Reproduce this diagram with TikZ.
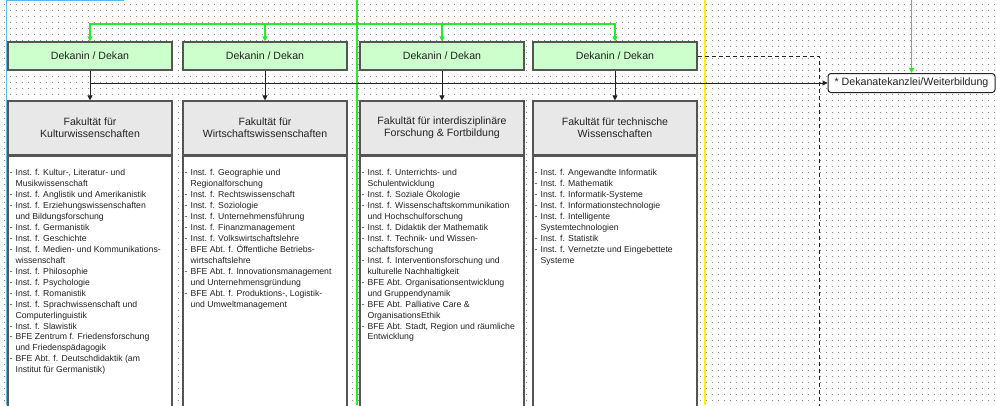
\documentclass[tikz,border=0pt]{standalone}
\usepackage{fontspec}
\setmainfont{Liberation Sans}
\usetikzlibrary{arrows.meta,patterns.meta}
\definecolor{boxline}{HTML}{555555}
\definecolor{txt}{HTML}{222222}
\definecolor{dekfill}{HTML}{CCFFCC}
\definecolor{headfill}{HTML}{E8E8E8}
\definecolor{lanegreen}{HTML}{22EE22}
\definecolor{laneyellow}{HTML}{FFF000}
\definecolor{laneblue}{HTML}{55BBEE}
\definecolor{dotc}{HTML}{606060}
\newcommand{\itm}{\makebox[6bp][l]{-}}
\newcommand{\cnt}{\hspace*{6bp}}
\tikzset{
  dekan/.style={draw=boxline, fill=dekfill, line width=1.2bp, minimum width=164bp,
    minimum height=28bp, inner sep=0pt, text=txt, font=\fontsize{10.6}{12}\selectfont},
  fakhead/.style={draw=boxline, fill=headfill, line width=1.2bp, minimum width=164bp,
    minimum height=54bp, inner sep=0pt, align=center, text=txt,
    font=\fontsize{10.6}{12.3}\selectfont},
  fakbody/.style={draw=boxline, fill=white, line width=1.2bp, minimum width=164bp,
    minimum height=280bp, inner sep=0pt, anchor=north},
  instlist/.style={anchor=north west, align=left, inner sep=0pt, text=txt,
    font=\fontsize{8.7}{11}\selectfont},
  kanzlei/.style={draw=txt, fill=white, line width=1bp, rounded corners=3bp,
    minimum width=167bp, minimum height=19bp, inner sep=0pt, text=txt,
    font=\fontsize{10.7}{12}\selectfont},
  blk/.style={draw=txt, line width=1bp, -{Triangle[length=5bp,width=5bp]}},
  grn/.style={draw=lanegreen, line width=1.2bp, -{Triangle[length=5bp,width=5bp]}},
  lane/.style={line width=1.2bp},
  dsh/.style={draw=txt, line width=1bp, dash pattern=on 4bp off 3bp},
}
\begin{document}
\begin{tikzpicture}[x=1bp,y=-1bp]
\useasboundingbox (0,0) rectangle (997,405);
\clip (0,0) rectangle (997,405);
% dotted background
\fill[white] (0,0) rectangle (997,405);
\fill[pattern={Dots[distance=6bp,radius=0.55bp]}, pattern color=dotc] (0,0) rectangle (997,405);
% lane lines
\coordinate (bl) at (6.5,405);
\coordinate (bc) at (6.5,0.7);
\coordinate (br) at (124,0.7);
\draw[lane, laneblue] (bl) -- (bc) -- (br);
\coordinate (yt) at (705,0);
\coordinate (yb) at (705,405);
\draw[lane, laneyellow] (yt) -- (yb);
\coordinate (gt) at (357,0);
\coordinate (gb) at (357,405);
\draw[lane, lanegreen] (gt) -- (gb);
% nodes
\node[dekan] (d1) at (90,56) {Dekanin / Dekan};
\node[dekan] (d2) at (265,56) {Dekanin / Dekan};
\node[dekan] (d3) at (442,56) {Dekanin / Dekan};
\node[dekan] (d4) at (615,56) {Dekanin / Dekan};
\node[kanzlei] (dk) at (911.5,83) {* Dekanatekanzlei/Weiterbildung};
% connectors
\coordinate (gj) at (357,24);
\draw[grn] (gj) -| (d1.north);
\draw[grn] (gj) -| (d2.north);
\draw[grn] (gj) -| (d3.north);
\draw[grn] (gj) -| (d4.north);
\coordinate (gk) at (911.5,0);
\draw[grn] (gk) -- (dk.north);
\draw[blk] (d1.south) |- (dk.west);
\coordinate (dc) at (819,410);
\draw[dsh] (d4.east) -| (dc);
% faculties
\node[fakhead] (f1) at (90,128) {Fakultät für\\Kulturwissenschaften};
\node[fakhead] (f2) at (265,128) {Fakultät für\\Wirtschaftswissenschaften};
\node[fakhead] (f3) at (442,128) {Fakultät für interdisziplinäre\\Forschung \& Fortbildung};
\node[fakhead] (f4) at (615,128) {Fakultät für technische\\Wissenschaften};
\draw[blk] (d1.south) -- (f1.north);
\draw[blk] (d2.south) -- (f2.north);
\draw[blk] (d3.south) -- (f3.north);
\draw[blk] (d4.south) -- (f4.north);
\node[fakbody] (b1) at (f1.south) {};
\node[fakbody] (b2) at (f2.south) {};
\node[fakbody] (b3) at (f3.south) {};
\node[fakbody] (b4) at (f4.south) {};
\node[instlist] (l1) at ([xshift=2bp,yshift=-13.5bp]b1.north west) {%
\itm Inst. f. Kultur-, Literatur- und\\
\cnt Musikwissenschaft\\
\itm Inst. f. Anglistik und Amerikanistik\\
\itm Inst. f. Erziehungswissenschaften\\
\cnt und Bildungsforschung\\
\itm Inst. f. Germanistik\\
\itm Inst. f. Geschichte\\
\itm Inst. f. Medien- und Kommunikations-\\
\cnt wissenschaft\\
\itm Inst. f. Philosophie\\
\itm Inst. f. Psychologie\\
\itm Inst. f. Romanistik\\
\itm Inst. f. Sprachwissenschaft und\\
\cnt Computerlinguistik\\
\itm Inst. f. Slawistik\\
\itm BFE Zentrum f. Friedensforschung\\
\cnt und Friedenspädagogik\\
\itm BFE Abt. f. Deutschdidaktik (am\\
\cnt Institut für Germanistik)};
\node[instlist] (l2) at ([xshift=2bp,yshift=-13.5bp]b2.north west) {%
\itm Inst. f. Geographie und\\
\cnt Regionalforschung\\
\itm Inst. f. Rechtswissenschaft\\
\itm Inst. f. Soziologie\\
\itm Inst. f. Unternehmensführung\\
\itm Inst. f. Finanzmanagement\\
\itm Inst. f. Volkswirtschaftslehre\\
\itm BFE Abt. f. Öffentliche Betriebs-\\
\cnt wirtschaftslehre\\
\itm BFE Abt. f. Innovationsmanagement\\
\cnt und Unternehmensgründung\\
\itm BFE Abt. f. Produktions-, Logistik-\\
\cnt und Umweltmanagement};
\node[instlist] (l3) at ([xshift=2bp,yshift=-13.5bp]b3.north west) {%
\itm Inst. f. Unterrichts- und\\
\cnt Schulentwicklung\\
\itm Inst. f. Soziale Ökologie\\
\itm Inst. f. Wissenschaftskommunikation\\
\cnt und Hochschulforschung\\
\itm Inst. f. Didaktik der Mathematik\\
\itm Inst. f. Technik- und Wissen-\\
\cnt schaftsforschung\\
\itm Inst. f. Interventionsforschung und\\
\cnt kulturelle Nachhaltigkeit\\
\itm BFE Abt. Organisationsentwicklung\\
\cnt und Gruppendynamik\\
\itm BFE Abt. Palliative Care \&\\
\cnt OrganisationsEthik\\
\itm BFE Abt. Stadt, Region und räumliche\\
\cnt Entwicklung};
\node[instlist] (l4) at ([xshift=2bp,yshift=-13.5bp]b4.north west) {%
\itm Inst. f. Angewandte Informatik\\
\itm Inst. f. Mathematik\\
\itm Inst. f. Informatik-Systeme\\
\itm Inst. f. Informationstechnologie\\
\itm Inst. f. Intelligente\\
\cnt Systemtechnologien\\
\itm Inst. f. Statistik\\
\itm Inst. f. Vernetzte und Eingebettete\\
\cnt Systeme};
\end{tikzpicture}
\end{document}
